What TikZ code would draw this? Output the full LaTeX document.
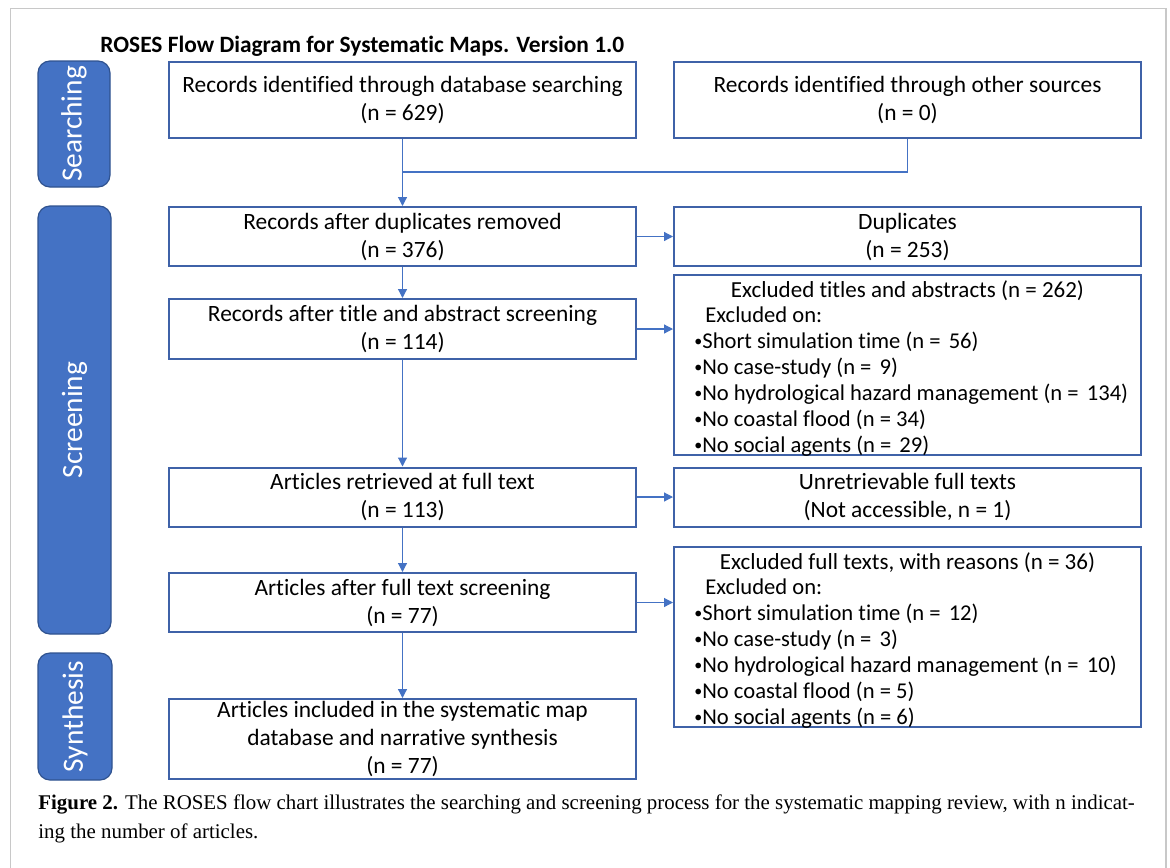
\documentclass[tikz,border=0pt]{standalone}
\usepackage{fontspec}
\setmainfont{Carlito}[Ligatures=NoCommon]
\newfontfamily\capfont{Liberation Serif}
\usetikzlibrary{arrows.meta}
\definecolor{boxblue}{HTML}{3F62A8}
\definecolor{arrblue}{HTML}{4472C4}
\definecolor{sidefill}{HTML}{4472C4}
\definecolor{sideedge}{HTML}{2F528F}
\definecolor{framegray}{HTML}{C8C8C8}
\newcommand{\bul}{\raisebox{0.15ex}{\fontsize{8}{8}\selectfont •}}
\newcommand{\xs}{\hspace{1.5pt}}
\tikzset{
  flowbox/.style={draw=boxblue, line width=1pt, inner sep=0pt, align=center,
    minimum width=233.5pt, font=\fontsize{11.7}{14}\selectfont},
  sidebar/.style={draw=sideedge, fill=sidefill, line width=0.6pt, rounded corners=6pt,
    inner sep=0pt},
  sidetext/.style={text=white, rotate=90, font=\fontsize{14.7}{16}\selectfont},
  flowarrow/.style={draw=arrblue, line width=0.6pt, -{Triangle[length=4.5pt,width=4.5pt]}},
  flowline/.style={draw=arrblue, line width=0.6pt},
  listhead/.style={anchor=north, inner sep=0pt, font=\fontsize{11.5}{13}\selectfont},
  listtext/.style={anchor=north west, align=left, inner sep=0pt,
    font=\fontsize{11.3}{13}\selectfont}
}
\begin{document}
\begin{tikzpicture}[x=0.5pt,y=-0.5pt]
\useasboundingbox (0,0) rectangle (1170,867);
% outer frame
\draw[framegray, line width=0.8pt] (10.5,870) -- (10.5,8.5) -- (1166,8.5) -- (1166,870);
% title
\node[anchor=base west, inner sep=0pt, font=\bfseries\fontsize{11.7}{12}\selectfont] (title) at (100,52)
  {ROSES Flow Diagram for Systematic Maps. Version 1.0};
% sidebars
\node[sidebar, minimum width=36pt, minimum height=63pt] (s1) at (74,124) {};
\node[sidetext] at (s1.center) {Searching};
\node[sidebar, minimum width=36.5pt, minimum height=214pt] (s2) at (74.5,420) {};
\node[sidetext] at (s2.center) {Screening};
\node[sidebar, minimum width=37pt, minimum height=63.5pt] (s3) at (75,716.5) {};
\node[sidetext] at (s3.center) {Synthesis};
% boxes
\node[flowbox, minimum height=38pt] (A) at (402.5,100) {Records identified through database searching\\(n = 629)};
\node[flowbox, minimum height=38pt] (B) at (907.5,100) {Records identified through other sources\\(n = 0)};
\node[flowbox, minimum height=29.5pt] (C) at (402.5,236.5) {Records after duplicates removed\\(n = 376)};
\node[flowbox, minimum height=29.5pt] (D) at (907.5,236.5) {Duplicates\\(n = 253)};
\node[flowbox, minimum height=30pt] (E) at (402.5,329) {Records after title and abstract screening\\(n = 114)};
\node[flowbox, minimum height=90pt] (F) at (907.5,365) {};
\node[flowbox, minimum height=29.5pt] (G) at (402.5,497) {Articles retrieved at full text\\(n = 113)};
\node[flowbox, minimum height=29.5pt] (H) at (907.5,497) {Unretrievable full texts\\(Not accessible, n = 1)};
\node[flowbox, minimum height=29.5pt] (I) at (402.5,602.5) {Articles after full text screening\\(n = 77)};
\node[flowbox, minimum height=90pt] (J) at (907.5,637) {};
\node[flowbox, minimum height=40pt] (K) at (402.5,739) {Articles included in the systematic map\\database and narrative synthesis\\(n = 77)};
% list texts
\node[listhead] (Fh) at ([yshift=-3pt]F.north) {Excluded titles and abstracts (n = 262)};
\node[listtext] (Ft) at ([xshift=10.5pt,yshift=-16pt]F.north west)
  {\hspace*{5.5pt}Excluded on:\\
   \bul Short simulation time (n =\xs\ 56)\\
   \bul No case-study (n =\xs\ 9)\\
   \bul No hydrological hazard management (n =\xs\ 134)\\
   \bul No coastal flood (n = 34)\\
   \bul No social agents (n =\xs\ 29)};
\node[listhead] (Jh) at ([yshift=-3pt]J.north) {Excluded full texts, with reasons (n = 36)};
\node[listtext] (Jt) at ([xshift=10.5pt,yshift=-16pt]J.north west)
  {\hspace*{5.5pt}Excluded on:\\
   \bul Short simulation time (n =\xs\ 12)\\
   \bul No case-study (n =\xs\ 3)\\
   \bul No hydrological hazard management (n =\xs\ 10)\\
   \bul No coastal flood (n = 5)\\
   \bul No social agents (n = 6)};
% connectors
\coordinate (m) at (402.5,172);
\draw[flowline] (B.south) |- (m);
\draw[flowarrow] (A.south) -- (C.north);
\draw[flowarrow] (C.east) -- (D.west);
\draw[flowarrow] (C.south) -- (E.north);
\draw[flowarrow] (E.east) -- (E.east -| F.west);
\draw[flowarrow] (E.south) -- (G.north);
\draw[flowarrow] (G.east) -- (H.west);
\draw[flowarrow] (I.east) -- (I.east -| J.west);
\draw[flowarrow] (G.south) -- (I.north);
\draw[flowarrow] (I.south) -- (K.north);
% caption
\node[anchor=base west, inner sep=0pt, font=\capfont\fontsize{10.45}{15}\selectfont] (cap1) at (38,809)
  {\textbf{Figure 2.} The ROSES flow chart illustrates the searching and screening process for the systematic mapping review, with n indicat-};
\node[anchor=base west, inner sep=0pt, font=\capfont\fontsize{10.45}{15}\selectfont] (cap2) at (38,838)
  {ing the number of articles.};
\end{tikzpicture}
\end{document}
